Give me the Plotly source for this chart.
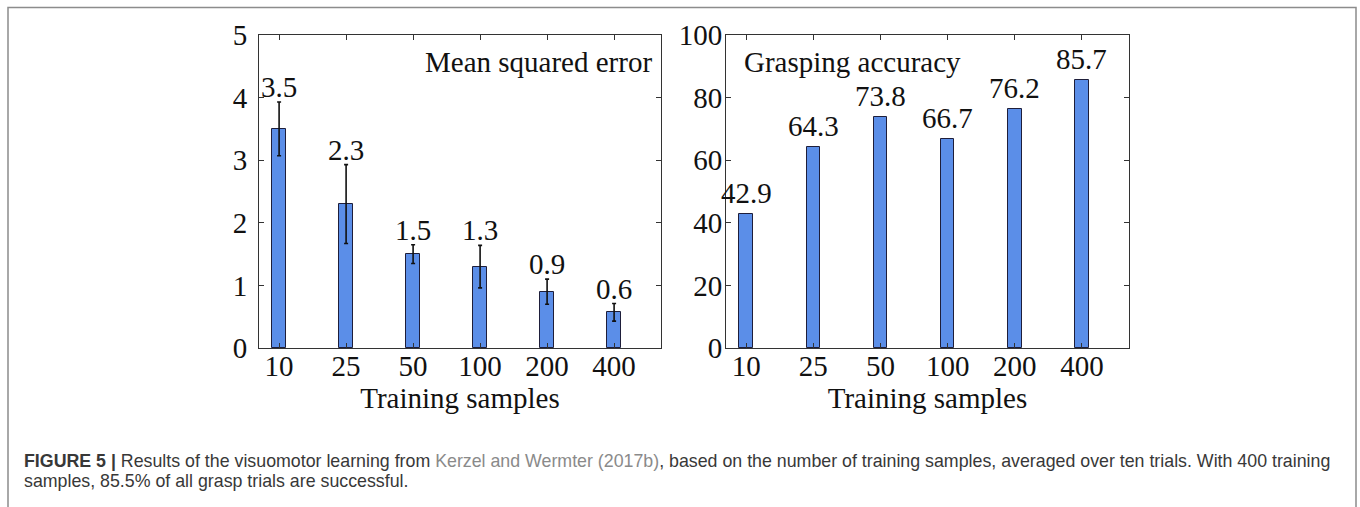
import plotly.graph_objects as go

# ---- data ----
samples = ["10", "25", "50", "100", "200", "400"]
mse = [3.5, 2.3, 1.5, 1.3, 0.9, 0.57]
mse_err = [0.43, 0.63, 0.15, 0.34, 0.20, 0.14]
accuracy = [42.9, 64.3, 73.8, 66.7, 76.2, 85.7]

left_title = "Mean squared error"
right_title = "Grasping accuracy"
x_title = "Training samples"
caption_1 = ("<b>FIGURE 5 |</b> Results of the visuomotor learning from "
             "<span style='color:#8a8a8a'>Kerzel and Wermter (2017b)</span>, "
             "based on the number of training samples, averaged over ten trials. With 400 training")
caption_2 = "samples, 85.5% of all grasp trials are successful."

W, H = 1360, 507
SERIF = "Liberation Serif, Times New Roman, serif"
SANS = "Liberation Sans, Arial, Helvetica, sans-serif"
BAR_FILL = "#5b8ee8"
BAR_LINE = "#1e1e3a"
AX = "#333333"
FS = 29
CAP_FS = 17.8

def px_x(p):
    return p / W

def px_y(p):
    return 1 - p / H

idx = list(range(len(samples)))

fig = go.Figure()

fig.add_trace(go.Bar(
    x=idx, y=mse, xaxis="x", yaxis="y", width=0.2,
    marker=dict(color=BAR_FILL, line=dict(color=BAR_LINE, width=1)),
    error_y=dict(type="data", array=mse_err, visible=True, color="#111111",
                 thickness=1.6, width=2),
    showlegend=False, hoverinfo="y",
))
fig.add_trace(go.Bar(
    x=idx, y=accuracy, xaxis="x2", yaxis="y2", width=0.2,
    marker=dict(color=BAR_FILL, line=dict(color=BAR_LINE, width=1)),
    showlegend=False, hoverinfo="y",
))

common_x = dict(
    range=[-0.3, 5.7], tickmode="array", tickvals=idx, ticktext=samples,
    showline=True, linecolor=AX, linewidth=1, automargin=False,
    mirror="ticks", ticks="inside", ticklen=5, tickcolor=AX, showgrid=False,
    zeroline=False, tickfont=dict(family=SERIF, size=FS, color="#111111"),
    title=dict(text=x_title, font=dict(family=SERIF, size=FS, color="#111111"), standoff=0),
    ticklabelstandoff=-8, fixedrange=True,
)
common_y = dict(
    showline=True, linecolor=AX, linewidth=1, mirror="ticks", ticks="inside",
    ticklen=5, tickcolor=AX, showgrid=False, zeroline=False, automargin=False,
    tickfont=dict(family=SERIF, size=FS, color="#111111"), fixedrange=True,
)

y_dom = [px_y(348), px_y(35)]
fig.update_layout(
    width=W, height=H, autosize=False,
    margin=dict(l=0, r=0, t=0, b=0, pad=0),
    paper_bgcolor="white", plot_bgcolor="white",
    bargap=0,
    xaxis=dict(common_x, domain=[px_x(259), px_x(661)], anchor="y"),
    yaxis=dict(common_y, domain=y_dom, anchor="x", range=[0, 5], dtick=1,
               ticklabelstandoff=5),
    xaxis2=dict(common_x, domain=[px_x(726), px_x(1129)], anchor="y2"),
    yaxis2=dict(common_y, domain=y_dom, anchor="x2", range=[0, 100], dtick=20,
                ticklabelstandoff=-3),
)

ann = []
for i, v, e in zip(idx, mse, mse_err):
    ann.append(dict(x=i, y=v + e, xref="x", yref="y", text=f"{v:.1f}",
                    showarrow=False, yanchor="bottom", yshift=-3,
                    font=dict(family=SERIF, size=FS, color="#111111")))
for i, v in zip(idx, accuracy):
    ann.append(dict(x=i, y=v, xref="x2", yref="y2", text=f"{v:.1f}",
                    showarrow=False, yanchor="bottom", yshift=3,
                    font=dict(family=SERIF, size=FS, color="#111111")))

ann.append(dict(x=px_x(654), y=px_y(62), xref="paper", yref="paper", text=left_title,
                showarrow=False, xanchor="right", yanchor="middle",
                font=dict(family=SERIF, size=FS, color="#111111")))
ann.append(dict(x=px_x(742), y=px_y(62), xref="paper", yref="paper", text=right_title,
                showarrow=False, xanchor="left", yanchor="middle",
                font=dict(family=SERIF, size=FS, color="#111111")))

ann.append(dict(x=px_x(22), y=px_y(461), xref="paper", yref="paper", text=caption_1,
                showarrow=False, xanchor="left", yanchor="middle",
                font=dict(family=SANS, size=CAP_FS, color="#383838")))
ann.append(dict(x=px_x(22), y=px_y(481), xref="paper", yref="paper", text=caption_2,
                showarrow=False, xanchor="left", yanchor="middle",
                font=dict(family=SANS, size=CAP_FS, color="#383838")))

fig.update_layout(annotations=ann)

fig.add_shape(type="rect", xref="paper", yref="paper",
              x0=px_x(8), x1=px_x(1356), y0=-0.05, y1=px_y(7.5),
              line=dict(color="#8c8c8c", width=1.5), fillcolor="rgba(0,0,0,0)",
              layer="below")

fig.write_html("out.html", config={"displayModeBar": False},
               post_script="document.body.style.margin='0';document.body.style.overflow='hidden';")
